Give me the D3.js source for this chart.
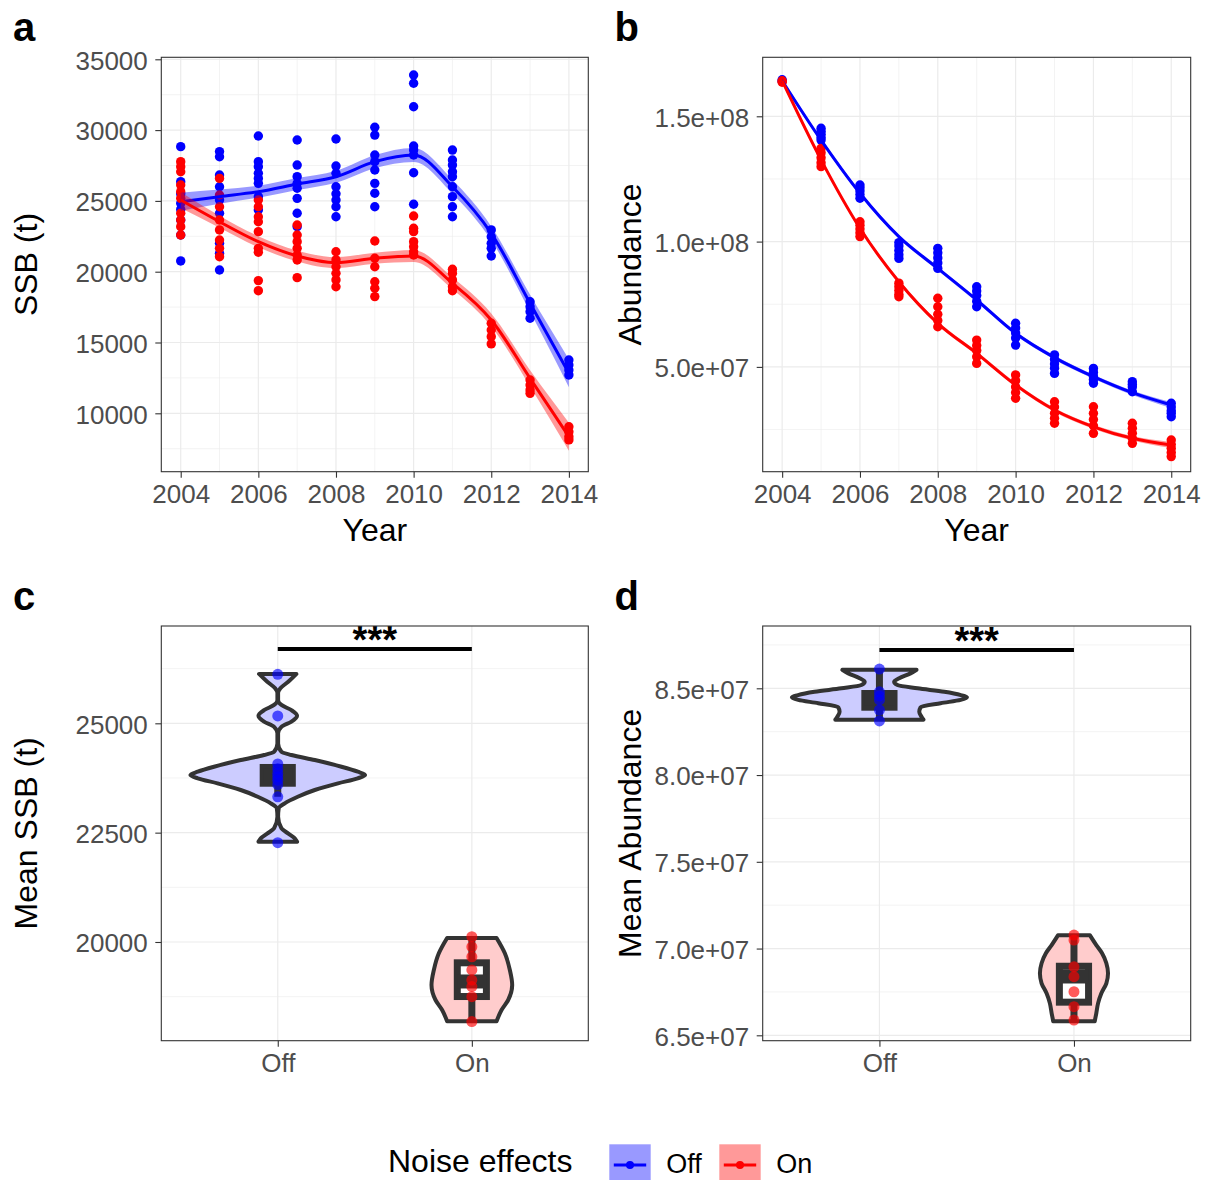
<!DOCTYPE html>
<html>
<head>
<meta charset="utf-8">
<script src="https://cdnjs.cloudflare.com/ajax/libs/d3/7.8.5/d3.min.js"></script>
<style>
  body { margin: 0; background: #fff; }
</style>
</head>
<body>
<div id="fig"></div>
<script>
// ---------- data ----------
const years = [2004, 2005, 2006, 2007, 2008, 2009, 2010, 2011, 2012, 2013, 2014];
const groups = ['Off', 'On'];

// (a) SSB of each simulation, one list per year
const ssbOff = [
  [28830, 26360, 25500, 24830, 24400, 23650, 22590, 20760],
  [28480, 28120, 26830, 26000, 25060, 24130, 22010, 21300, 20120],
  [29580, 27770, 27420, 26950, 26590, 26240, 25300, 24360],
  [29300, 27530, 26710, 26240, 25890, 25180, 24130, 23180],
  [29370, 27460, 26950, 26000, 25500, 25060, 24590, 23880],
  [30200, 29650, 28240, 27770, 27180, 26240, 25540, 24590],
  [33890, 33310, 31650, 28880, 28590, 28240, 26990, 24760],
  [28590, 27890, 27530, 27060, 26710, 26000, 25300, 24590, 23880],
  [22950, 22470, 22010, 21650, 21110],
  [17880, 17530, 17180, 16710],
  [13760, 13410, 13060, 12710]
];
const ssbOn = [
  [27770, 27420, 27060, 26120, 25650, 25180, 24130, 23650, 23180, 22590],
  [26590, 25420, 24590, 23650, 22950, 22240, 21650, 21060],
  [25060, 24590, 23880, 23530, 22830, 21650, 21370, 19370, 18660],
  [23300, 22590, 22120, 21650, 21180, 20830, 19580],
  [21410, 20830, 20350, 19890, 19420, 18940],
  [22170, 20950, 20350, 19290, 18830, 18240],
  [23930, 23070, 22830, 22120, 21770, 21410, 21180],
  [20170, 19890, 19420, 18940, 18660],
  [16360, 15880, 15410, 14900],
  [12350, 12000, 11650, 11410],
  [9050, 8700, 8350, 8120]
];
// smoothed trend and its standard error band
const ssbFitOff = [24940, 25300, 25650, 26190, 26710, 27770, 28240, 26000, 22710, 17770, 12830];
const ssbSeOff  = [640, 500, 420, 420, 420, 460, 490, 490, 490, 600, 990];
const ssbFitOn  = [25060, 23530, 22120, 21110, 20640, 20950, 21110, 19180, 16590, 12470, 8350];
const ssbSeOn   = [570, 420, 390, 390, 390, 390, 420, 420, 460, 570, 990];

// (b) abundance of each simulation, one list per year
const abOff = [
  [164.6e6, 164.0e6],
  [145.2e6, 144.0e6, 142.8e6, 141.5e6, 140.5e6],
  [122.6e6, 121.5e6, 120.2e6, 118.8e6, 117.3e6],
  [99.6e6, 98.2e6, 96.5e6, 94.8e6, 93.3e6],
  [97.3e6, 95.5e6, 93.5e6, 91.5e6, 89.3e6],
  [82.0e6, 80.3e6, 78.5e6, 76.2e6, 74.0e6],
  [67.4e6, 65.5e6, 63.5e6, 61.5e6, 58.7e6],
  [54.8e6, 53.0e6, 51.2e6, 49.5e6, 47.4e6],
  [49.4e6, 47.8e6, 46.2e6, 45.0e6, 43.5e6],
  [44.1e6, 43.0e6, 42.0e6, 40.1e6],
  [35.5e6, 34.0e6, 32.5e6, 31.5e6, 30.1e6]
];
const abOn = [
  [164.2e6, 163.6e6],
  [137.2e6, 135.5e6, 133.5e6, 131.5e6, 129.9e6],
  [107.9e6, 106.5e6, 105.0e6, 103.5e6, 102.0e6],
  [83.4e6, 82.0e6, 80.5e6, 79.0e6, 78.0e6],
  [77.4e6, 74.0e6, 71.0e6, 68.5e6, 66.0e6],
  [60.7e6, 58.5e6, 56.5e6, 54.0e6, 51.4e6],
  [46.8e6, 44.5e6, 42.0e6, 39.8e6, 37.5e6],
  [36.1e6, 34.0e6, 31.5e6, 29.5e6, 27.5e6],
  [34.1e6, 31.5e6, 29.0e6, 26.5e6, 23.5e6],
  [27.5e6, 25.5e6, 23.5e6, 21.5e6, 19.5e6],
  [20.8e6, 19.0e6, 17.5e6, 15.8e6, 14.2e6]
];
const abFitOff = [164.2e6, 140.5e6, 119.3e6, 102.0e6, 89.3e6, 76.7e6, 63.4e6, 53.7e6, 46.1e6, 39.7e6, 34.8e6];
const abSeOff  = [0.9e6, 0.8e6, 0.8e6, 0.8e6, 0.8e6, 0.8e6, 0.8e6, 0.8e6, 0.8e6, 0.9e6, 1.2e6];
const abFitOn  = [164.2e6, 132.6e6, 105.3e6, 84.0e6, 67.4e6, 55.4e6, 42.8e6, 32.8e6, 26.1e6, 21.5e6, 18.8e6];
const abSeOn   = [0.9e6, 0.8e6, 0.8e6, 0.8e6, 0.8e6, 0.8e6, 0.8e6, 0.8e6, 0.8e6, 0.9e6, 1.2e6];

// (c) mean SSB per simulation
const meanSsbOff = [26120, 25170, 24070, 23960, 23860, 23780, 23700, 23600, 23320, 22270];
const meanSsbOn  = [20120, 19890, 19660, 19360, 19130, 18980, 18750, 18180];
// violin outlines: level and relative density (1 = widest violin)
const ssbViolinOffLevel = [26130, 25950, 25800, 25690, 25530, 25420, 25300, 25174, 25040, 24920, 24770, 24540,
                           24350, 24275, 24160, 24007, 23893, 23818, 23742, 23628, 23475, 23321, 23170, 23056,
                           22864, 22600, 22484, 22370, 22292];
const ssbViolinOffDens  = [0.214, 0.12, 0.03, 0.004, 0.004, 0.042, 0.157, 0.221, 0.157, 0.042, 0.004, 0.004,
                           0.042, 0.157, 0.424, 0.73, 0.916, 1.0, 0.916, 0.69, 0.424, 0.229, 0.08, 0.011,
                           0.004, 0.042, 0.118, 0.195, 0.221];
const ssbViolinOnLevel = [20091, 19741, 19360, 19017, 18674, 18445, 18186];
const ssbViolinOnDens  = [0.283, 0.378, 0.435, 0.462, 0.416, 0.34, 0.283];
// box: low whisker, q1, median, q3, high whisker
const ssbBoxOff = [23320, 23630, 23810, 23990, 24070];
const ssbBoxOn  = [18180, 18753, 19097, 19524, 20120];
const ssbSigLevel = 26700;

// (d) mean abundance per simulation
const meanAbOff = [86.11e6, 84.80e6, 84.56e6, 84.33e6, 83.75e6, 83.12e6];
const meanAbOn  = [70.78e6, 70.49e6, 68.95e6, 68.38e6, 67.51e6, 66.65e6, 65.88e6];
const abViolinOffLevel = [86.07e6, 85.86e6, 85.58e6, 85.38e6, 85.19e6, 85.00e6, 84.80e6, 84.61e6, 84.48e6,
                          84.33e6, 84.14e6, 83.90e6, 83.65e6, 83.36e6, 83.19e6];
const abViolinOffDens  = [0.424, 0.355, 0.226, 0.168, 0.206, 0.435, 0.741, 0.931, 1.0,
                          0.928, 0.699, 0.47, 0.455, 0.481, 0.504];
const abViolinOnLevel = [70.76e6, 70.20e6, 69.73e6, 69.15e6, 68.57e6, 68.00e6, 67.42e6, 66.84e6, 66.27e6, 65.81e6];
const abViolinOnDens  = [0.183, 0.255, 0.321, 0.37, 0.389, 0.37, 0.313, 0.275, 0.255, 0.237];
const abBoxOff = [83.12e6, 83.91e6, 84.40e6, 84.70e6, 86.11e6];
const abBoxOn  = [65.88e6, 66.91e6, 68.39e6, 68.98e6, 70.78e6];
const abSigLevel = 87.21e6;

// ---------- layout ----------
const W = 1210, H = 1180;
const FONT = '"Liberation Sans", Arial, Helvetica, sans-serif';
const BLUE = '#0000ff', RED = '#ff0000', DARK = '#333333';
const panels = {
  a: {x0: 161.3, x1: 588.3, y0: 57.3, y1: 471.7},
  b: {x0: 762.7, x1: 1190.7, y0: 57.3, y1: 471.7},
  c: {x0: 161.3, x1: 588.3, y0: 626, y1: 1040.7},
  d: {x0: 762.7, x1: 1190.7, y0: 626, y1: 1040.7}
};

const svg = d3.select('#fig').append('svg').attr('width', W).attr('height', H);
svg.append('rect').attr('width', W).attr('height', H).attr('fill', '#fff');

function sci(v) {
  // 1.5e+08 style like R
  return d3.format('.1e')(v).replace(/e([+-])(\d)$/, 'e$10$2');
}

function grid(p, x, y, o) {
  const g = svg.append('g');
  const lines = (vals, horiz, w) => g.append('g').selectAll('line').data(vals).join('line')
    .attr('x1', d => horiz ? p.x0 : x(d)).attr('x2', d => horiz ? p.x1 : x(d))
    .attr('y1', d => horiz ? y(d) : p.y0).attr('y2', d => horiz ? y(d) : p.y1)
    .attr('stroke', '#ebebeb').attr('stroke-width', w);
  lines(o.yMinor, true, 0.6);
  lines(o.xMinor, false, 0.6);
  lines(o.yMajor, true, 1.2);
  lines(o.xMajor, false, 1.2);
}

function axes(p, x, y, o) {
  const ax = svg.append('g').attr('transform', `translate(0,${p.y1})`)
    .call(d3.axisBottom(x).tickValues(o.xMajor).tickSize(6).tickPadding(7).tickFormat(o.xFormat));
  const ay = svg.append('g').attr('transform', `translate(${p.x0},0)`)
    .call(d3.axisLeft(y).tickValues(o.yMajor).tickSize(6).tickPadding(7.5).tickFormat(o.yFormat));
  [ax, ay].forEach(a => {
    a.select('.domain').remove();
    a.selectAll('.tick line').attr('stroke', DARK).attr('stroke-width', 1.1);
    a.selectAll('.tick text').attr('fill', '#4d4d4d').attr('font-size', 26).attr('font-family', FONT);
  });
  ay.selectAll('.tick text').attr('dy', '0.38em');
  svg.append('rect').attr('x', p.x0).attr('y', p.y0)
    .attr('width', p.x1 - p.x0).attr('height', p.y1 - p.y0)
    .attr('fill', 'none').attr('stroke', DARK).attr('stroke-width', 1.1);

  if (o.xTitle) {
    svg.append('text').attr('x', (p.x0 + p.x1) / 2).attr('y', p.y1 + 69.5)
      .attr('text-anchor', 'middle').attr('font-family', FONT).attr('font-size', 32)
      .text(o.xTitle);
  }
  svg.append('text')
    .attr('transform', `translate(${p.x0 - o.yTitleGap},${(p.y0 + p.y1) / 2}) rotate(-90)`)
    .attr('text-anchor', 'middle').attr('font-family', FONT).attr('font-size', 32)
    .text(o.yTitle);
  svg.append('text').attr('x', p.x0 - 148.3).attr('y', p.y0 - 16.5)
    .attr('font-family', FONT).attr('font-weight', 'bold').attr('font-size', 40)
    .text(o.tag);
}

function scatter(x, y, lists, color) {
  const flat = lists.flatMap((vals, i) => vals.map(v => ({year: years[i], v})));
  svg.append('g').selectAll('circle').data(flat).join('circle')
    .attr('cx', d => x(d.year)).attr('cy', d => y(d.v)).attr('r', 4.7).attr('fill', color);
}

function trend(x, y, fit, se, color) {
  const rows = years.map((yr, i) => ({yr, fit: fit[i], se: se[i]}));
  svg.append('path').datum(rows)
    .attr('d', d3.area().x(d => x(d.yr)).y0(d => y(d.fit - d.se)).y1(d => y(d.fit + d.se))
      .curve(d3.curveMonotoneX))
    .attr('fill', color).attr('fill-opacity', 0.4);
  svg.append('path').datum(rows)
    .attr('d', d3.line().x(d => x(d.yr)).y(d => y(d.fit)).curve(d3.curveMonotoneX))
    .attr('fill', 'none').attr('stroke', color).attr('stroke-width', 3);
}

function violin(x, y, halfW, cat, levels, dens, fill) {
  const rows = levels.map((v, i) => ({v, w: dens[i]}));
  const cx = x(cat);
  svg.append('path').datum(rows)
    .attr('d', d3.area().y(d => y(d.v)).x0(d => cx - halfW(d.w)).x1(d => cx + halfW(d.w))
      .curve(d3.curveMonotoneY))
    .attr('fill', fill).attr('stroke', DARK).attr('stroke-width', 4).attr('stroke-linejoin', 'round');
}

function boxplot(x, y, cat, s) {
  const cx = x(cat), hw = 0.075 * x.step();
  const [lo, q1, med, q3, hi] = s;
  const g = svg.append('g').attr('stroke', DARK);
  g.append('line').attr('x1', cx).attr('x2', cx).attr('y1', y(hi)).attr('y2', y(q3)).attr('stroke-width', 7);
  g.append('line').attr('x1', cx).attr('x2', cx).attr('y1', y(q1)).attr('y2', y(lo)).attr('stroke-width', 7);
  g.append('rect').attr('x', cx - hw).attr('width', 2 * hw).attr('y', y(q3)).attr('height', y(q1) - y(q3))
    .attr('fill', '#fff').attr('stroke-width', 7);
  g.append('line').attr('x1', cx - hw).attr('x2', cx + hw).attr('y1', y(med)).attr('y2', y(med))
    .attr('stroke-width', 14);
}

function dots(x, y, cat, vals, color) {
  svg.append('g').selectAll('circle').data(vals).join('circle')
    .attr('cx', x(cat)).attr('cy', d => y(d)).attr('r', 5.5)
    .attr('fill', color).attr('fill-opacity', 0.65);
}

function signif(x, y, level) {
  const yy = y(level);
  svg.append('line').attr('x1', x('Off')).attr('x2', x('On')).attr('y1', yy).attr('y2', yy)
    .attr('stroke', '#000').attr('stroke-width', 4);
  svg.append('text').attr('x', (x('Off') + x('On')) / 2).attr('y', yy + 4)
    .attr('text-anchor', 'middle').attr('font-family', FONT).attr('font-weight', 'bold')
    .attr('font-size', 38)
    .text('***');
}

// ---------- panel a ----------
{
  const p = panels.a;
  const x = d3.scaleLinear().domain([2003.5, 2014.5]).range([p.x0, p.x1]);
  const y = d3.scaleLinear().domain([5876, 35141]).range([p.y1, p.y0]);
  const o = {
    xMajor: [2004, 2006, 2008, 2010, 2012, 2014], xMinor: [2005, 2007, 2009, 2011, 2013],
    yMajor: [10000, 15000, 20000, 25000, 30000, 35000], yMinor: [7500, 12500, 17500, 22500, 27500, 32500],
    xFormat: d3.format('d'), yFormat: d3.format('d'),
    xTitle: 'Year', yTitle: 'SSB (t)', yTitleGap: 124.3, tag: 'a'
  };
  grid(p, x, y, o);
  scatter(x, y, ssbOff, BLUE);
  scatter(x, y, ssbOn, RED);
  trend(x, y, ssbFitOff, ssbSeOff, BLUE);
  trend(x, y, ssbFitOn, ssbSeOn, RED);
  axes(p, x, y, o);
}

// ---------- panel b ----------
{
  const p = panels.b;
  const x = d3.scaleLinear().domain([2003.5, 2014.5]).range([p.x0, p.x1]);
  const y = d3.scaleLinear().domain([8.18e6, 173.54e6]).range([p.y1, p.y0]);
  const o = {
    xMajor: [2004, 2006, 2008, 2010, 2012, 2014], xMinor: [2005, 2007, 2009, 2011, 2013],
    yMajor: [50e6, 100e6, 150e6], yMinor: [25e6, 75e6, 125e6],
    xFormat: d3.format('d'), yFormat: sci,
    xTitle: 'Year', yTitle: 'Abundance', yTitleGap: 121.7, tag: 'b'
  };
  grid(p, x, y, o);
  scatter(x, y, abOff, BLUE);
  scatter(x, y, abOn, RED);
  trend(x, y, abFitOff, abSeOff, BLUE);
  trend(x, y, abFitOn, abSeOn, RED);
  axes(p, x, y, o);
}

// ---------- panel c ----------
{
  const p = panels.c;
  const x = d3.scalePoint().domain(groups).range([p.x0, p.x1]).padding(0.6);
  const y = d3.scaleLinear().domain([17743, 27225]).range([p.y1, p.y0]);
  const halfW = d3.scaleLinear().domain([0, 1]).range([0, 0.45 * x.step()]);
  const o = {
    xMajor: groups, xMinor: [],
    yMajor: [20000, 22500, 25000], yMinor: [18750, 21250, 23750, 26250],
    yFormat: d3.format('d'),
    yTitle: 'Mean SSB (t)', yTitleGap: 124.3, tag: 'c'
  };
  grid(p, x, y, o);
  violin(x, y, halfW, 'Off', ssbViolinOffLevel, ssbViolinOffDens, '#ccccff');
  violin(x, y, halfW, 'On', ssbViolinOnLevel, ssbViolinOnDens, '#ffcccc');
  boxplot(x, y, 'Off', ssbBoxOff);
  boxplot(x, y, 'On', ssbBoxOn);
  dots(x, y, 'Off', meanSsbOff, BLUE);
  dots(x, y, 'On', meanSsbOn, RED);
  signif(x, y, ssbSigLevel);
  axes(p, x, y, o);
}

// ---------- panel d ----------
{
  const p = panels.d;
  const x = d3.scalePoint().domain(groups).range([p.x0, p.x1]).padding(0.6);
  const y = d3.scaleLinear().domain([64.689e6, 88.591e6]).range([p.y1, p.y0]);
  const halfW = d3.scaleLinear().domain([0, 1]).range([0, 0.45 * x.step()]);
  const o = {
    xMajor: groups, xMinor: [],
    yMajor: [65e6, 70e6, 75e6, 80e6, 85e6], yMinor: [67.5e6, 72.5e6, 77.5e6, 82.5e6, 87.5e6],
    yFormat: sci,
    yTitle: 'Mean Abundance', yTitleGap: 121.7, tag: 'd'
  };
  grid(p, x, y, o);
  violin(x, y, halfW, 'Off', abViolinOffLevel, abViolinOffDens, '#ccccff');
  violin(x, y, halfW, 'On', abViolinOnLevel, abViolinOnDens, '#ffcccc');
  boxplot(x, y, 'Off', abBoxOff);
  boxplot(x, y, 'On', abBoxOn);
  dots(x, y, 'Off', meanAbOff, BLUE);
  dots(x, y, 'On', meanAbOn, RED);
  signif(x, y, abSigLevel);
  axes(p, x, y, o);
}

// ---------- legend ----------
{
  const lg = svg.append('g').attr('font-family', FONT);
  lg.append('text').attr('x', 388).attr('y', 1172).attr('font-size', 32).text('Noise effects');
  const keys = [
    {label: 'Off', color: BLUE, x: 609.3},
    {label: 'On', color: RED, x: 719.3}
  ];
  const k = lg.selectAll('g.key').data(keys).join('g').attr('class', 'key')
    .attr('transform', d => `translate(${d.x},1144.3)`);
  k.append('rect').attr('width', 41.4).attr('height', 41.4)
    .attr('fill', d => d.color).attr('fill-opacity', 0.4);
  k.append('line').attr('x1', 4.5).attr('x2', 36.9).attr('y1', 20.7).attr('y2', 20.7)
    .attr('stroke', d => d.color).attr('stroke-width', 3);
  k.append('circle').attr('cx', 20.7).attr('cy', 20.7).attr('r', 4).attr('fill', d => d.color);
  k.append('text').attr('x', 57).attr('y', 29.2).attr('font-size', 27).text(d => d.label);
}
</script>
</body>
</html>
